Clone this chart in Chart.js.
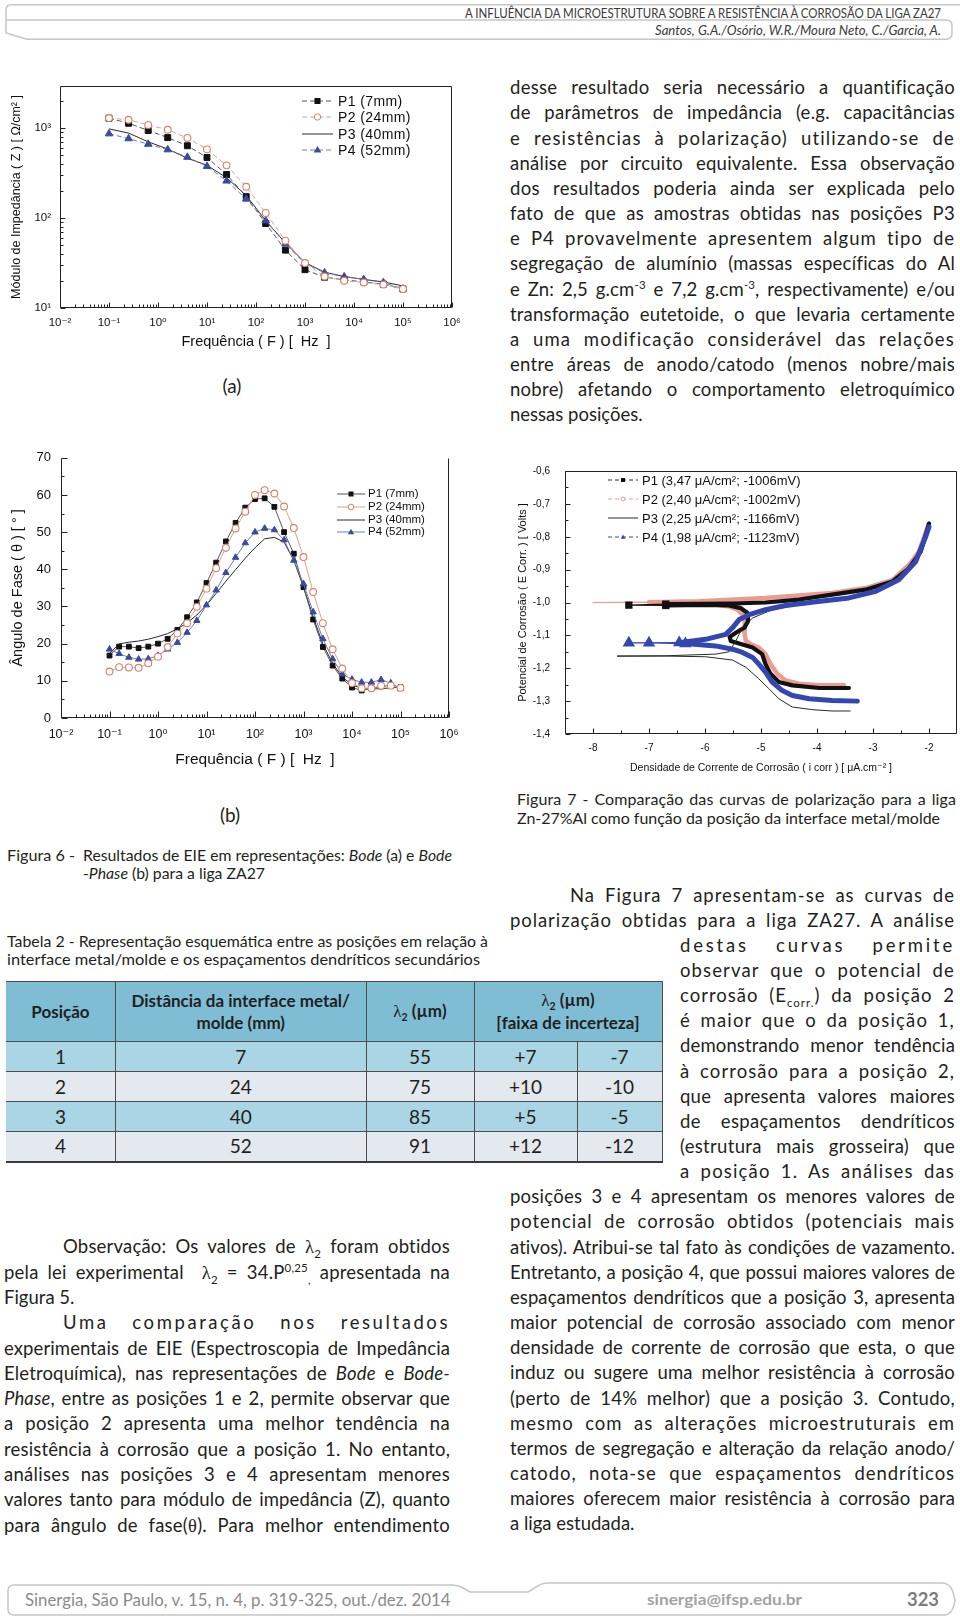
<!DOCTYPE html>
<html><head><meta charset="utf-8">
<script src="https://cdn.jsdelivr.net/npm/chart.js@4.4.1/dist/chart.umd.min.js"></script>
<style>
html,body{margin:0;padding:0;background:#fff;}
body{width:960px;height:1617px;position:relative;overflow:hidden;font-family:Lato,'Open Sans',sans-serif;color:#231f20;}
canvas{position:absolute;}
.ln{position:absolute;white-space:nowrap;line-height:25px;}
.ln .t{display:inline-block;transform-origin:0 50%;}
.body{font-size:18.5px;}
.cap{font-size:16px;}
.lab{font-size:19px;}
.hd{font-size:14px;color:#3a3a3a;}
.ft{font-size:17.5px;color:#8b8b8b;}
.ftb{font-size:15px;color:#a3a3a3;font-weight:bold;}
.ftn{font-size:18px;color:#7d7d7d;font-weight:bold;}
.g{font-family:'Liberation Serif','DejaVu Serif',serif;}
sub,sup{line-height:0;font-size:0.62em;}
.lg{position:absolute;font-family:'Liberation Sans',Arial,sans-serif;color:#111;white-space:nowrap;}
#tb{position:absolute;left:6px;top:981px;border-collapse:collapse;table-layout:fixed;width:656px;font-family:Lato,sans-serif;color:#231f20;}
#tb th,#tb td{border:1.5px solid #4d4d4d;text-align:center;padding:0;}
#tb tr>*:first-child{border-left:none;}
#tb th{background:#7fbdd5;font-weight:bold;font-size:17px;line-height:22px;}
#tb tr.h{height:60px;}
#tb tr.o,#tb tr.e{height:30px;}
#tb td{font-size:19px;line-height:20px;}
#tb tr.o td{background:#a9d5e5;}
#tb tr.e td{background:#e4e8ef;}
#tb tr:last-child td{border-bottom:2px solid #3a3a3a;}
</style>
</head>
<body>
<svg width="960" height="1617" style="position:absolute;left:0;top:0" fill="none" stroke="#c6c6c6" stroke-width="1.5">
  <path d="M960,4.7 H11 Q6,4.7 6,10 V33 L27,39.3 H946 Q952,39.3 952,33 V26 Q952,20 946,20 H6"/>
  <path d="M14,1585 H452 Q458,1585 463,1588 L470,1592 H528 L538,1586 Q542,1583 548,1583 H942 Q950,1583 953,1592 L955,1600 Q953,1615 944,1615 H14 Q8,1615 8,1609 V1591 Q8,1585 14,1585 Z"/>
</svg>
<canvas id="cA" width="470" height="290" style="left:0;top:70px"></canvas>
<canvas id="cB" width="470" height="340" style="left:0;top:440px"></canvas>
<canvas id="cC" width="460" height="330" style="left:500px;top:450px"></canvas>
<table id="tb"></table>
<script>
// ---------------- DATA ----------------
const freqA = [0.1, 0.251, 0.631, 1.58, 3.98, 10, 25.1, 63.1, 158, 398, 1000, 2510, 6310, 15800, 39800, 100000];
const zP1 = [1290, 1133, 942, 785, 637, 472, 305, 173, 87, 44, 26.7, 22, 20.6, 19.5, 18.4, 16.3];
const zP2 = [1295, 1240, 1087, 960, 778, 581, 386, 223, 114, 56, 31.6, 22.4, 20.1, 19.2, 18.2, 16.3];
const zP3 = [982, 881, 705, 586, 463, 386, 281, 178, 93.5, 53, 32, 25, 22.4, 20.8, 19.5, 17.6];
const zP4 = [867, 765, 664, 576, 476, 377, 259, 163, 93.5, 51.6, 31.3, 24.6, 22.3, 20.8, 19.2, 16.3];

const freqB = [0.1, 0.158, 0.251, 0.398, 0.631, 1, 1.58, 2.51, 3.98, 6.31, 10, 15.8, 25.1, 39.8, 63.1, 100, 158, 251, 398, 631, 1000, 1580, 2510, 3980, 6310, 10000, 15800, 25100, 39800, 63100, 100000];
const phP1 = [16.8, 19.2, 19.2, 18.8, 19.2, 20.0, 21.3, 23.7, 27.1, 31.1, 36.3, 41.8, 47.5, 52.5, 56.6, 58.9, 59.1, 56.8, 50.0, 44.2, 35.2, 26.5, 19.1, 14.1, 10.6, 8.2, 7.4, 7.9, 8.5, 8.7, 8.3];
const phP2 = [12.5, 13.7, 13.6, 13.5, 14.7, 16.5, 19.1, 22.7, 25.5, 29.9, 34.8, 40.3, 45.8, 51.0, 55.5, 60.0, 61.3, 60.4, 56.9, 51.1, 43.3, 33.9, 25.5, 18.5, 13.3, 9.4, 8.0, 8.0, 8.7, 8.7, 8.1];
const phP3 = [17.4, 19.9, 20.4, 20.7, 21.2, 21.9, 22.7, 24.0, 25.6, 27.7, 30.4, 33.5, 36.8, 39.9, 43.0, 45.8, 48.2, 48.6, 47.3, 42.4, 35.2, 27.2, 19.9, 14.7, 11.0, 8.9, 8.0, 7.8, 7.9, 8.1, 8.3];
const phP4 = [18.5, 17.3, 16.3, 15.8, 15.9, 16.8, 18.5, 20.3, 23.0, 26.2, 30.4, 34.4, 39.1, 43.2, 47.1, 50.0, 51.0, 50.6, 47.9, 42.4, 36.1, 28.5, 21.3, 15.9, 11.8, 10.4, 9.6, 9.6, 10.3, 9.4, 7.9];

const p1I = [-3.43, -3.96, -4.44, -4.68, -4.83, -4.92, -4.98, -5.15, -5.39, -5.54, -5.56, -5.45, -5.30, -5.23, -5.24, -5.36, -5.57, -5.99, -6.70, -7.36, -6.70, -5.51, -4.92, -4.32, -3.73, -3.13, -2.65, -2.36, -2.15, -2.0];
const p1E = [-1.26, -1.26, -1.252, -1.242, -1.217, -1.187, -1.157, -1.137, -1.125, -1.117, -1.105, -1.092, -1.077, -1.057, -1.032, -1.017, -1.009, -1.007, -1.009, -1.008, -1.005, -1.003, -1.0, -0.991, -0.976, -0.961, -0.936, -0.896, -0.846, -0.76];
const p2I = [-3.52, -3.96, -4.32, -4.56, -4.71, -4.83, -4.92, -5.04, -5.18, -5.27, -5.30, -5.29, -5.33, -5.42, -5.57, -5.87, -6.35, -7.0, -8.0, -7.0, -6.1, -4.92, -3.73, -3.13, -2.65, -2.36, -2.18, -2.0];
const p2E = [-1.252, -1.252, -1.247, -1.237, -1.217, -1.187, -1.157, -1.137, -1.127, -1.117, -1.087, -1.057, -1.037, -1.022, -1.012, -1.005, -1.002, -1.0, -1.0, -0.999, -0.996, -0.986, -0.971, -0.956, -0.931, -0.886, -0.846, -0.76];
const p3I = [-3.40, -3.73, -4.08, -4.44, -4.68, -4.86, -5.04, -5.27, -5.51, -5.99, -6.70, -7.57, -6.70, -5.81, -5.57, -5.45, -5.33, -5.15, -4.80, -4.32, -3.73, -3.13, -2.65, -2.30, -2.06, -2.0];
const p3E = [-1.33, -1.33, -1.326, -1.318, -1.293, -1.262, -1.232, -1.197, -1.175, -1.165, -1.163, -1.163, -1.162, -1.157, -1.15, -1.117, -1.077, -1.047, -1.022, -1.007, -0.995, -0.976, -0.946, -0.886, -0.806, -0.77];
const p4I = [-3.28, -3.73, -4.14, -4.44, -4.62, -4.80, -4.92, -5.04, -5.15, -5.33, -5.51, -5.81, -6.35, -7.0, -7.36, -6.46, -5.99, -5.63, -5.51, -5.39, -5.21, -4.92, -4.56, -4.02, -3.43, -2.95, -2.54, -2.24, -2.06, -2.0];
const p4E = [-1.30, -1.298, -1.293, -1.283, -1.268, -1.242, -1.212, -1.187, -1.167, -1.152, -1.142, -1.132, -1.125, -1.123, -1.123, -1.122, -1.112, -1.097, -1.077, -1.052, -1.037, -1.022, -1.009, -0.998, -0.986, -0.966, -0.931, -0.876, -0.80, -0.77];

const freqTickVals = [0.01, 0.1, 1, 10, 100, 1000, 10000, 100000, 1000000];
const freqTickLabels = ['10⁻²', '10⁻¹', '10⁰', '10¹', '10²', '10³', '10⁴', '10⁵', '10⁶'];
const zTickVals = [10, 100, 1000];
const zTickLabels = ['10¹', '10²', '10³'];
const phTickVals = [0, 10, 20, 30, 40, 50, 60, 70];
const phTickLabels = ['0', '10', '20', '30', '40', '50', '60', '70'];
const phMinor = [5, 15, 25, 35, 45, 55, 65];
const iTickVals = [-8, -7, -6, -5, -4, -3, -2];
const iTickLabels = ['-8', '-7', '-6', '-5', '-4', '-3', '-2'];
const iMinor = [-7.5, -6.5, -5.5, -4.5, -3.5, -2.5];
const eTickVals = [-0.6, -0.7, -0.8, -0.9, -1.0, -1.1, -1.2, -1.3, -1.4];
const eTickLabels = ['-0,6', '-0,7', '-0,8', '-0,9', '-1,0', '-1,1', '-1,2', '-1,3', '-1,4'];
const eMinor = [-0.65, -0.75, -0.85, -0.95, -1.05, -1.15, -1.25, -1.35];

const seriesA = ['P1 (7mm)', 'P2 (24mm)', 'P3 (40mm)', 'P4 (52mm)'];
const seriesC = ['P1 (3,47 μA/cm²; -1006mV)', 'P2 (2,40 μA/cm²; -1002mV)', 'P3 (2,25 μA/cm²; -1166mV)', 'P4 (1,98 μA/cm²; -1123mV)'];

const posicao = [1, 2, 3, 4];
const distancia = [7, 24, 40, 52];
const lambda2 = [55, 75, 85, 91];
const faixa = [7, 10, 5, 12];

// ---------------- STYLE ----------------
const FF = "'Liberation Sans', Arial, 'DejaVu Sans', sans-serif";
const colP1 = '#111', lineP1 = '#555', colP2 = '#d5836b', lineP2 = '#dea190', colP3 = '#2a2a2a', colP4 = '#3a4a9f', lineP4 = '#6e7ab9';
const cP2 = '#eb9c8e', cP4 = '#3446b2';

function minorLog(min, max) {
  const out = [];
  for (let n = Math.floor(Math.log10(min)); n <= Math.ceil(Math.log10(max)); n++)
    for (let k = 2; k <= 9; k++) { const v = k * Math.pow(10, n); if (v > min && v < max) out.push(v); }
  return out;
}

const frameTicks = {
  id: 'frameTicks',
  afterDatasetsDraw(chart, args, o) {
    const {ctx, chartArea: a} = chart;
    const xs = chart.scales.x, ys = chart.scales.y;
    const L = Math.round(a.left) + 0.5, R = Math.round(a.right) - 0.5, T = Math.round(a.top) + 0.5, B = Math.round(a.bottom) - 0.5;
    ctx.save();
    ctx.strokeStyle = o.color; ctx.lineWidth = 1;
    ctx.beginPath();
    ctx.moveTo(L, T); ctx.lineTo(L, B); ctx.lineTo(R, B);
    if (o.right) { ctx.moveTo(R, B); ctx.lineTo(R, T); }
    if (o.top) { ctx.moveTo(L, T); ctx.lineTo(R, T); }
    const tx = (vals, len) => vals.forEach(v => { const p = Math.round(xs.getPixelForValue(v)) + 0.5; ctx.moveTo(p, B); ctx.lineTo(p, B - len); });
    const ty = (vals, len) => vals.forEach(v => { const p = Math.round(ys.getPixelForValue(v)) + 0.5; ctx.moveTo(L, p); ctx.lineTo(L + len, p); });
    tx(o.xMajor, o.majorLen); tx(o.xMinor, o.minorLen);
    ty(o.yMajor, o.majorLen); ty(o.yMinor, o.minorLen);
    ctx.stroke();
    ctx.restore();
  }
};
Chart.register(frameTicks);

function axis(type, min, max, vals, labels, size, pad, fitFn, title) {
  return {
    type, min, max,
    afterBuildTicks: s => { s.ticks = vals.map(v => ({value: v})); },
    afterFit: fitFn,
    ticks: {autoSkip: false, maxRotation: 0, minRotation: 0, padding: pad, color: '#111', font: {family: FF, size}, callback: (v, i) => labels[i]},
    grid: {display: false, drawTicks: false},
    border: {display: false},
    title: Object.assign({display: true, color: '#111'}, title)
  };
}
const baseOpts = (padding, xs, ys, ft) => ({
  responsive: false, animation: false, events: [],
  layout: {padding},
  plugins: {legend: {display: false}, tooltip: {enabled: false}, frameTicks: ft},
  scales: {x: xs, y: ys}
});
const pts = (xa, ya) => xa.map((x, i) => ({x, y: ya[i]}));

// Chart (a) Bode
new Chart(document.getElementById('cA'), {
  type: 'line',
  data: {datasets: [
    {label: seriesA[2], data: pts(freqA, zP3), borderColor: colP3, borderWidth: 1, pointRadius: 0, order: 3},
    {label: seriesA[0], data: pts(freqA, zP1), borderColor: lineP1, borderWidth: 1, borderDash: [5, 3], pointStyle: 'rect', pointRadius: 4.2, pointBackgroundColor: colP1, pointBorderColor: colP1, order: 2},
    {label: seriesA[3], data: pts(freqA, zP4), borderColor: lineP4, borderWidth: 1, borderDash: [5, 3], pointStyle: 'triangle', pointRadius: 4.3, pointBackgroundColor: colP4, pointBorderColor: colP4, order: 1},
    {label: seriesA[1], data: pts(freqA, zP2), borderColor: lineP2, borderWidth: 1, borderDash: [5, 3], pointStyle: 'circle', pointRadius: 3.4, pointBackgroundColor: '#fff', pointBorderColor: colP2, pointBorderWidth: 1.1, order: 0}
  ]},
  options: baseOpts({left: 0, right: 18, top: 10, bottom: 0},
    axis('logarithmic', 0.01, 1e6, freqTickVals, freqTickLabels, 11.5, 7.5, s => { s.height = 52; }, {text: 'Frequência ( F ) [  Hz  ]', font: {family: FF, size: 14.5}, padding: {top: 0, bottom: 9}}),
    axis('logarithmic', 10, 2950, zTickVals, zTickLabels, 11.5, 9, s => { s.width = 60; }, {text: 'Módulo de Impedância ( Z ) [ Ω/cm² ]', font: {family: FF, size: 12.5}, padding: {top: 9.5, bottom: 0}}),
    {xMajor: freqTickVals, xMinor: minorLog(0.01, 1e6), yMajor: zTickVals, yMinor: minorLog(10, 2950), majorLen: 5, minorLen: 3, top: true, right: true, color: '#222'})
});

// Chart (b) Bode-Phase
new Chart(document.getElementById('cB'), {
  type: 'line',
  data: {datasets: [
    {label: seriesA[2], data: pts(freqB, phP3), borderColor: colP3, borderWidth: 1, pointRadius: 0, order: 3},
    {label: seriesA[0], data: pts(freqB, phP1), borderColor: lineP1, borderWidth: 1, pointStyle: 'rect', pointRadius: 3.4, pointBackgroundColor: colP1, pointBorderColor: colP1, order: 2},
    {label: seriesA[3], data: pts(freqB, phP4), borderColor: lineP4, borderWidth: 1, pointStyle: 'triangle', pointRadius: 3.7, pointBackgroundColor: colP4, pointBorderColor: colP4, order: 1},
    {label: seriesA[1], data: pts(freqB, phP2), borderColor: lineP2, borderWidth: 1, pointStyle: 'circle', pointRadius: 3.4, pointBackgroundColor: '#fff', pointBorderColor: colP2, pointBorderWidth: 1.1, order: 0}
  ]},
  options: baseOpts({left: 0, right: 21, top: 17, bottom: 0},
    axis('logarithmic', 0.01, 1e6, freqTickVals, freqTickLabels, 12.5, 9.5, s => { s.height = 62; }, {text: 'Frequência ( F ) [  Hz  ]', font: {family: FF, size: 15.5}, padding: {top: 0, bottom: 10.5}}),
    axis('linear', 0, 70, phTickVals, phTickLabels, 13, 10, s => { s.width = 61; }, {text: 'Ângulo de Fase ( θ ) [ ° ]', font: {family: FF, size: 14.5}, padding: {top: 9, bottom: 0}}),
    {xMajor: freqTickVals, xMinor: minorLog(0.01, 1e6), yMajor: phTickVals, yMinor: phMinor, majorLen: 6, minorLen: 3, top: false, right: true, color: '#222'})
});

// Chart (c) polarization
const thinPlateau = w => ({borderWidth: c => (c.p0.parsed.x < -6.2 && c.p1.parsed.x < -6.2) ? 1.2 : w});
const plateauPts = r => (c => (c.raw && c.raw.x < -6.2) ? r : 0);
new Chart(document.getElementById('cC'), {
  type: 'line',
  data: {datasets: [
    {label: seriesC[1], data: pts(p2I, p2E), borderColor: cP2, borderWidth: 4.5, segment: thinPlateau(4.5), pointRadius: 0, borderJoinStyle: 'round', borderCapStyle: 'round', order: 3},
    {label: seriesC[0], data: pts(p1I, p1E), borderColor: colP1, borderWidth: 4.2, segment: thinPlateau(4.2), pointStyle: 'rect', pointRadius: plateauPts(2.2), pointBackgroundColor: colP1, pointBorderColor: colP1, borderJoinStyle: 'round', borderCapStyle: 'round', order: 2},
    {label: seriesC[2], data: pts(p3I, p3E), borderColor: colP3, borderWidth: 1, pointRadius: 0, order: 1},
    {label: seriesC[3], data: pts(p4I, p4E), borderColor: cP4, borderWidth: 5, segment: thinPlateau(5), pointStyle: 'triangle', pointRadius: plateauPts(2.2), pointBackgroundColor: cP4, pointBorderColor: cP4, borderJoinStyle: 'round', borderCapStyle: 'round', order: 0}
  ]},
  options: baseOpts({left: 0, right: 3, top: 18, bottom: 0},
    axis('linear', -8.5, -1.5, iTickVals, iTickLabels, 10, 8, s => { s.height = 46; }, {text: 'Densidade de Corrente de Corrosão ( i corr ) [ μA.cm⁻² ]', font: {family: FF, size: 10.5}, padding: {top: 0, bottom: 5.5}}),
    axis('linear', -1.4, -0.6, eTickVals, eTickLabels, 10, 15, s => { s.width = 65; }, {text: 'Potencial de Corrosão ( E Corr. ) [ Volts ]', font: {family: FF, size: 11}, padding: {top: 16.5, bottom: 0}}),
    {xMajor: iTickVals, xMinor: iMinor, yMajor: eTickVals, yMinor: eMinor, majorLen: 5, minorLen: 3, top: true, right: true, color: '#222'})
});

// ---------------- LEGENDS ----------------
function sampleSVG(w, r) {
  let s = `<svg width="${w}" height="12" style="overflow:visible;display:block">`;
  s += `<line x1="0" y1="6" x2="${w}" y2="6" stroke="${r.color}" stroke-width="${r.lw || 1}" ${r.dash ? `stroke-dasharray="${r.dash}"` : ''}/>`;
  const cx = w / 2, cy = 6, m = r.ms || 3;
  if (r.marker === 'rect') s += `<rect x="${cx - m}" y="${cy - m}" width="${2 * m}" height="${2 * m}" fill="${r.mc}"/>`;
  if (r.marker === 'circle') s += `<circle cx="${cx}" cy="${cy}" r="${m}" fill="#fff" stroke="${r.mc}" stroke-width="1"/>`;
  if (r.marker === 'tri') s += `<polygon points="${cx},${cy - m} ${cx + m * 0.95},${cy + m * 0.65} ${cx - m * 0.95},${cy + m * 0.65}" fill="${r.mc}"/>`;
  return s + '</svg>';
}
function addLegend(spec) {
  spec.rows.forEach((r, i) => {
    const yc = spec.ys[i];
    const s = document.createElement('div');
    s.className = 'lg'; s.style.left = spec.x0 + 'px'; s.style.top = (yc - 6) + 'px';
    s.innerHTML = sampleSVG(spec.x1 - spec.x0, r);
    document.body.appendChild(s);
    const t = document.createElement('div');
    t.className = 'lg'; t.style.left = spec.xt + 'px'; t.style.fontSize = spec.font + 'px';
    t.style.lineHeight = spec.font + 'px'; t.style.top = (yc - spec.font * 0.5) + 'px';
    if (spec.ls) t.style.letterSpacing = spec.ls + 'px';
    t.textContent = spec.labels[i];
    document.body.appendChild(t);
  });
}
addLegend({x0: 302, x1: 333, xt: 338, ys: [101, 117, 134, 150], font: 14, ls: 0.4, labels: seriesA, rows: [
  {color: lineP1, dash: '5,3', marker: 'rect', mc: colP1, ms: 3},
  {color: lineP2, dash: '5,3', marker: 'circle', mc: colP2, ms: 3.2},
  {color: colP3},
  {color: lineP4, dash: '5,3', marker: 'tri', mc: colP4, ms: 4}]});
addLegend({x0: 337, x1: 365, xt: 368, ys: [494, 507, 520, 532], font: 11.5, labels: seriesA, rows: [
  {color: lineP1, marker: 'rect', mc: colP1, ms: 2.5},
  {color: lineP2, marker: 'circle', mc: colP2, ms: 2.8},
  {color: colP3},
  {color: lineP4, marker: 'tri', mc: colP4, ms: 3.3}]});
addLegend({x0: 608, x1: 638, xt: 642, ys: [480, 499, 518, 537], font: 13, labels: seriesC, rows: [
  {color: '#333', dash: '4,3', marker: 'rect', mc: colP1, ms: 2},
  {color: cP2, dash: '4,3', marker: 'circle', mc: cP2, ms: 2},
  {color: colP3},
  {color: cP4, dash: '4,3', marker: 'tri', mc: cP4, ms: 2.5}]});

// ---------------- TABLE ----------------
(function () {
  const tb = document.getElementById('tb');
  let h = '<colgroup><col style="width:109.5px"><col style="width:250.5px"><col style="width:108px"><col style="width:103px"><col style="width:85px"></colgroup>';
  h += '<tr class="h"><th>Posição</th><th>Distância da interface metal/<br>molde (mm)</th><th><span class="g" style="font-weight:normal">λ</span><sub>2</sub> (µm)</th><th colspan="2"><span class="g" style="font-weight:normal">λ</span><sub>2</sub> (µm)<br>[faixa de incerteza]</th></tr>';
  posicao.forEach((p, i) => {
    h += `<tr class="${i % 2 ? 'e' : 'o'}"><td>${p}</td><td>${distancia[i]}</td><td>${lambda2[i]}</td><td>+${faixa[i]}</td><td>-${faixa[i]}</td></tr>`;
  });
  tb.innerHTML = h;
})();

// ---------------- TEXT ----------------
const blocks = [
  {cls: 'hd', x: 465, w: 476, b0: 18, step: 16.5, lines: [
    ['A INFLUÊNCIA DA MICROESTRUTURA SOBRE A RESISTÊNCIA À CORROSÃO DA LIGA ZA27', 's'],
    ['<i>Santos, G.A./Osório, W.R./Moura Neto, C./Garcia, A.</i>', 's', 655, 286]]},
  {cls: 'body', x: 510, w: 445, b0: 94.3, step: 25.15, lines: [
    ['desse resultado seria necessário a quantificação', 'j'],
    ['de parâmetros de impedância (e.g. capacitâncias', 'j'],
    ['e resistências à polarização) utilizando-se de', 'j'],
    ['análise por circuito equivalente. Essa observação', 'j'],
    ['dos resultados poderia ainda ser explicada pelo', 'j'],
    ['fato de que as amostras obtidas nas posições P3', 'j'],
    ['e P4 provavelmente apresentem algum tipo de', 'j'],
    ['segregação de alumínio (massas específicas do Al', 'j'],
    ['e Zn: 2,5 g.cm<sup>-3</sup> e 7,2 g.cm<sup>-3</sup>, respectivamente) e/ou', 'j'],
    ['transformação eutetoide, o que levaria certamente', 'j'],
    ['a uma modificação considerável das relações', 'j'],
    ['entre áreas de anodo/catodo (menos nobre/mais', 'j'],
    ['nobre) afetando o comportamento eletroquímico', 'j'],
    ['nessas posições.', 'n']]},
  {cls: 'lab', x: 232, w: 0, b0: 393, step: 0, lines: [['(a)', 'c']]},
  {cls: 'lab', x: 230, w: 0, b0: 822, step: 0, lines: [['(b)', 'c']]},
  {cls: 'cap', x: 517, w: 439, b0: 805, step: 19, lines: [
    ['Figura 7 - Comparação das curvas de polarização para a liga', 'j'],
    ['Zn-27%Al como função da posição da interface metal/molde', 's', 517, 423]]},
  {cls: 'cap', x: 7, w: 68, b0: 860.7, step: 0, lines: [['Figura 6 -', 's']]},
  {cls: 'cap', x: 83, w: 369, b0: 860.7, step: 18.3, lines: [
    ['Resultados de EIE em representações: <i>Bode</i> (a) e <i>Bode</i>', 'j'],
    ['-<i>Phase</i> (b) para a liga ZA27', 's', 83, 182]]},
  {cls: 'cap', x: 7, w: 481, b0: 946.7, step: 18.3, lines: [
    ['Tabela 2 - Representação esquemática entre as posições em relação à', 'j'],
    ['interface metal/molde e os espaçamentos dendríticos secundários', 's', 7, 473]]},
  {cls: 'body', x: 510, w: 445, b0: 901.5, step: 25.15, lines: [
    ['Na Figura 7 apresentam-se as curvas de', 'j', 570, 385],
    ['polarização obtidas para a liga ZA27. A análise', 'j'],
    ['destas curvas permite', 'j', 680, 275],
    ['observar que o potencial de', 'j', 680, 275],
    ['corrosão (E<sub>corr.</sub>) da posição 2', 'j', 680, 275],
    ['é maior que o da posição 1,', 'j', 680, 275],
    ['demonstrando menor tendência', 'j', 680, 275],
    ['à corrosão para a posição 2,', 'j', 680, 275],
    ['que apresenta valores maiores', 'j', 680, 275],
    ['de espaçamentos dendríticos', 'j', 680, 275],
    ['(estrutura mais grosseira) que', 'j', 680, 275],
    ['a posição 1. As análises das', 'j', 680, 275],
    ['posições 3 e 4 apresentam os menores valores de', 'j'],
    ['potencial de corrosão obtidos (potenciais mais', 'j'],
    ['ativos). Atribui-se tal fato às condições de vazamento.', 'j'],
    ['Entretanto, a posição 4, que possui maiores valores de', 'j'],
    ['espaçamentos dendríticos que a posição 3, apresenta', 'j'],
    ['maior potencial de corrosão associado com menor', 'j'],
    ['densidade de corrente de corrosão que esta, o que', 'j'],
    ['induz ou sugere uma melhor resistência à corrosão', 'j'],
    ['(perto de 14% melhor) que a posição 3. Contudo,', 'j'],
    ['mesmo com as alterações microestruturais em', 'j'],
    ['termos de segregação e alteração da relação anodo/', 'j'],
    ['catodo, nota-se que espaçamentos dendríticos', 'j'],
    ['maiores oferecem maior resistência à corrosão para', 'j'],
    ['a liga estudada.', 'n']]},
  {cls: 'body', x: 4, w: 446, b0: 1253.3, step: 25.3, lines: [
    ['Observação: Os valores de <span class="g">λ</span><sub>2</sub> foram obtidos', 'j', 63, 387],
    ['pela lei experimental &nbsp;<span class="g">λ</span><sub>2</sub> = 34.P<sup>0,25</sup><sub>,</sub> apresentada na', 'j'],
    ['Figura 5.', 'n'],
    ['Uma comparação nos resultados', 'j', 63, 387],
    ['experimentais de EIE (Espectroscopia de Impedância', 'j'],
    ['Eletroquímica), nas representações de <i>Bode</i> e <i>Bode-</i>', 'j'],
    ['<i>Phase</i>, entre as posições 1 e 2, permite observar que', 'j'],
    ['a posição 2 apresenta uma melhor tendência na', 'j'],
    ['resistência à corrosão que a posição 1. No entanto,', 'j'],
    ['análises nas posições 3 e 4 apresentam menores', 'j'],
    ['valores tanto para módulo de impedância (Z), quanto', 'j'],
    ['para ângulo de fase(<span class="g">θ</span>). Para melhor entendimento', 'j']]},
  {cls: 'ft', x: 24.7, w: 425.6, b0: 1606, step: 0, lines: [['Sinergia, São Paulo, v. 15, n. 4, p. 319-325, out./dez. 2014', 's']]},
  {cls: 'ftb', x: 647, w: 155, b0: 1605, step: 0, lines: [['sinergia@ifsp.edu.br', 's']]},
  {cls: 'ftn', x: 907, w: 32, b0: 1606, step: 0, lines: [['323', 's']]}
];
blocks.forEach(b => b.lines.forEach((ln, i) => {
  const [html, m, x, w] = ln;
  const el = document.createElement('div');
  el.className = 'ln ' + b.cls;
  el.dataset.x = x !== undefined ? x : b.x;
  el.dataset.w = w !== undefined ? w : b.w;
  el.dataset.m = m;
  el.dataset.b = b.b0 + i * b.step;
  el.innerHTML = '<span class="t">' + html + '</span>';
  document.body.appendChild(el);
}));
function layoutLines() {
  document.querySelectorAll('.ln').forEach(el => {
    const X = +el.dataset.x, B = +el.dataset.b, W = +el.dataset.w, m = el.dataset.m;
    const t = el.querySelector('.t');
    t.style.letterSpacing = ''; t.style.wordSpacing = ''; t.style.transform = '';
    el.style.left = X + 'px'; el.style.top = '0px';
    const probe = document.createElement('span');
    probe.style.cssText = 'display:inline-block;width:0;height:0;vertical-align:baseline';
    el.insertBefore(probe, el.firstChild);
    const off = probe.getBoundingClientRect().top - el.getBoundingClientRect().top;
    el.removeChild(probe);
    el.style.top = (B - off) + 'px';
    let w = t.getBoundingClientRect().width;
    if (m === 'c') { el.style.left = (X - w / 2) + 'px'; return; }
    if (!W) return;
    if (m === 'j' && w < W) {
      const txt = t.textContent;
      const n = (txt.trim().match(/[ \u00a0]/g) || []).length;
      const c = txt.length;
      const extra = W - w;
      const frac = extra / W > 0.15 ? 0.6 : 0.25;
      t.style.letterSpacing = (extra * frac / c) + 'px';
      const w2 = t.getBoundingClientRect().width;
      if (n > 0) t.style.wordSpacing = ((W - w2) / n) + 'px';
      w = t.getBoundingClientRect().width;
    }
    if (((m === 'j' || m === 's') && Math.abs(w - W) > 0.5) || (m === 'n' && w > W)) {
      t.style.transform = 'scaleX(' + (W / w) + ')';
    }
  });
}
layoutLines();
if (document.fonts && document.fonts.ready) document.fonts.ready.then(layoutLines);
</script>
</body></html>
